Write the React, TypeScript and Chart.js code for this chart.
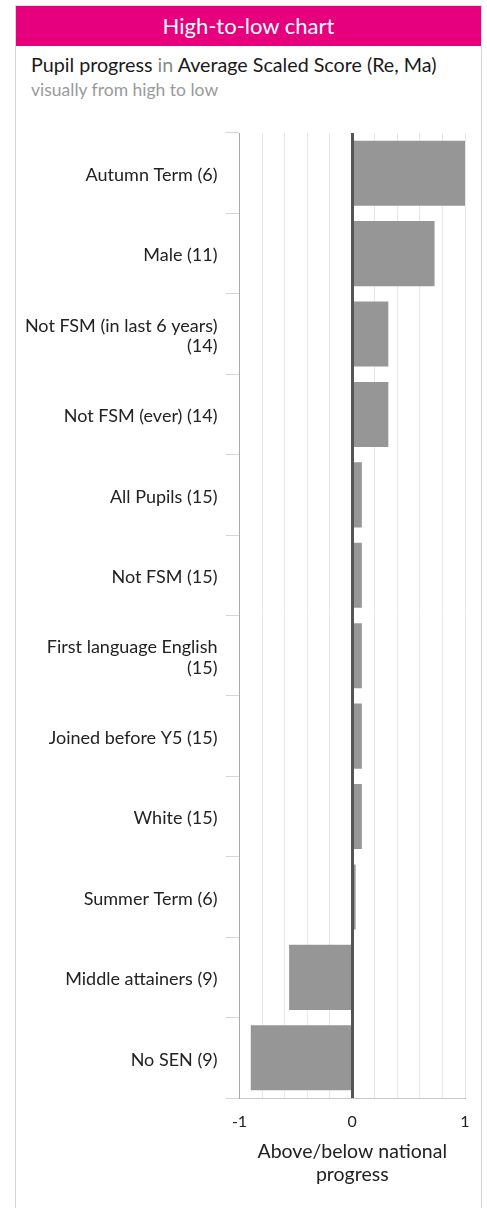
import React, { useEffect, useRef } from "react";
import { Chart, registerables } from "chart.js";

Chart.register(...registerables);

const categories: (string | string[])[] = [
  "Autumn Term (6)",
  "Male (11)",
  ["Not FSM (in last 6 years)", "(14)"],
  "Not FSM (ever) (14)",
  "All Pupils (15)",
  "Not FSM (15)",
  ["First language English", "(15)"],
  "Joined before Y5 (15)",
  "White (15)",
  "Summer Term (6)",
  "Middle attainers (9)",
  "No SEN (9)",
];

const progressValues: number[] = [1.0, 0.73, 0.32, 0.32, 0.085, 0.085, 0.085, 0.085, 0.085, 0.03, -0.56, -0.9];

const xTickLabels: number[] = [-1, 0, 1];

const FONT = "Lato, 'Noto Sans', sans-serif";

const zeroLinePlugin = {
  id: "zeroLine",
  afterDatasetsDraw(chart: any) {
    const x = chart.scales.x;
    const area = chart.chartArea;
    const px = Math.round(x.getPixelForValue(0)) + 0.5;
    const ctx = chart.ctx;
    ctx.save();
    ctx.strokeStyle = "#555555";
    ctx.lineWidth = 3;
    ctx.beginPath();
    ctx.moveTo(px, area.top);
    ctx.lineTo(px, area.bottom);
    ctx.stroke();
    ctx.restore();
  },
};

export default function App() {
  const ref = useRef<HTMLCanvasElement | null>(null);

  useEffect(() => {
    if (!ref.current) return;
    const chart = new Chart(ref.current, {
      type: "bar",
      data: {
        labels: categories as any,
        datasets: [
          {
            data: progressValues,
            backgroundColor: "#969696",
            borderWidth: 0,
            barPercentage: 0.81,
            categoryPercentage: 1,
          },
        ],
      },
      options: {
        indexAxis: "y",
        responsive: false,
        animation: false,
        devicePixelRatio: 1,
        layout: { padding: { top: 23, right: 16, left: 0, bottom: 0 } },
        plugins: {
          legend: { display: false },
          tooltip: { enabled: false },
        },
        scales: {
          x: {
            type: "linear",
            min: -1,
            max: 1,
            afterFit: (scale: any) => {
              scale.height = 110;
              scale.paddingRight = 0;
              scale.paddingLeft = 0;
            },
            ticks: {
              stepSize: 0.2,
              autoSkip: false,
              maxRotation: 0,
              padding: 14,
              color: "#222222",
              font: { family: FONT, size: 16 },
              callback: (v: any) => {
                const n = Number(v);
                const r = Math.round(n);
                if (Math.abs(n - r) < 1e-6 && xTickLabels.includes(r)) return String(r);
                return "";
              },
            },
            grid: {
              color: "#e8e8e8",
              lineWidth: 1,
              drawTicks: false,
            },
            border: { display: true, color: "#c8c8c8", width: 1 },
            title: {
              display: true,
              text: ["Above/below national", "progress"],
              color: "#222222",
              font: { family: FONT, size: 19.5, lineHeight: 1.18 },
              padding: { top: 0, bottom: 22 },
            },
          },
          y: {
            afterFit: (scale: any) => {
              scale.width = 223.5;
            },
            ticks: {
              color: "#222222",
              padding: 8,
              autoSkip: false,
              labelOffset: 2,
              font: { family: FONT, size: 18, lineHeight: 1.15 },
            },
            grid: {
              display: true,
              drawOnChartArea: false,
              drawTicks: true,
              tickLength: 14,
              color: "#d6d6d6",
              offset: true,
            },
            border: { display: true, color: "#a8a8a8", width: 1 },
          },
        },
      },
      plugins: [zeroLinePlugin],
    } as any);
    return () => chart.destroy();
  }, []);

  return (
    <div style={{ position: "absolute", left: 0, top: 0, width: 487, height: 1208, background: "#ffffff", overflow: "hidden", fontFamily: FONT }}>
      <div style={{ position: "absolute", left: 15, top: 5, width: 465, height: 1300, borderLeft: "1px solid #d4d4d4", borderRight: "1px solid #d4d4d4", borderTop: "1px solid #e4e4e4" }} />
      <div style={{ position: "absolute", left: 16, top: 6, width: 465, height: 40, background: "#e6007e", color: "#ffffff", fontSize: 22, lineHeight: "40px", textAlign: "center" }}>
        High-to-low chart
      </div>
      <div style={{ position: "absolute", left: 31, top: 52, fontSize: 19.7, lineHeight: "26px", color: "#1a1a1a", whiteSpace: "nowrap" }}>
        Pupil progress <span style={{ color: "#8a8a8a" }}>in</span> Average Scaled Score (Re, Ma)
      </div>
      <div style={{ position: "absolute", left: 31, top: 79, fontSize: 17.5, lineHeight: "22px", color: "#9a9a9a", whiteSpace: "nowrap" }}>
        visually from high to low
      </div>
      <canvas ref={ref} width={465} height={1098} style={{ position: "absolute", left: 16, top: 110, width: 465, height: 1098, display: "block" }} />
    </div>
  );
}
